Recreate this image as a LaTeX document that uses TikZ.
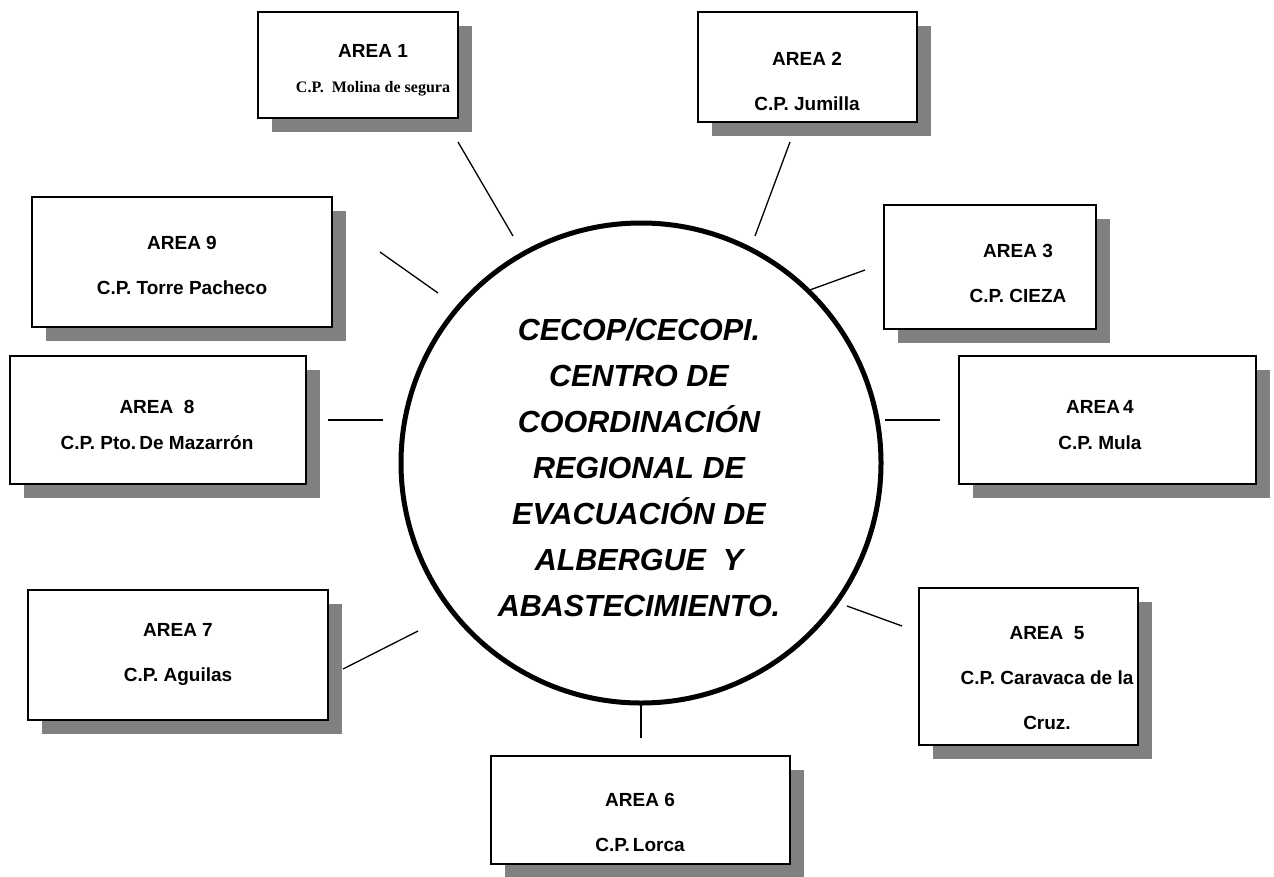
\documentclass[tikz,border=0pt]{standalone}
\usepackage{fontspec}
\setmainfont{Liberation Sans}
\newfontfamily\timesbf{Liberation Serif}
\usetikzlibrary{shadows}

\definecolor{shadowgray}{RGB}{128,128,128}

\begin{document}
\begin{tikzpicture}[x=1pt,y=-1pt,
    areabox/.style={draw=black, line width=1.4pt, fill=white, inner sep=0pt,
      general shadow={fill=shadowgray, shadow xshift=14pt, shadow yshift=-14pt}},
    areatext/.style={align=center, inner sep=0pt,
      font=\fontsize{19}{45}\selectfont\bfseries},
    link/.style={line width=1.3pt}]
        \useasboundingbox (0,0) rectangle (1274,876);
        % central circle
        \node [draw, circle, line width=5pt, minimum size=480pt, inner sep=0pt] (cecop) at (641,463) {};
        \node [align=center, font=\fontsize{30.5}{46}\selectfont\bfseries\itshape] (cecoptxt) at (639,468)
          {CECOP/CECOPI.\\CENTRO DE\\COORDINACIÓN\\REGIONAL DE\\EVACUACIÓN DE\\ALBERGUE\ \ Y\\ABASTECIMIENTO.};
        % area boxes
        \node [areabox, minimum width=200pt, minimum height=106pt] (area1) at (358,65) {};
        \node [areatext, font=\fontsize{19}{35}\selectfont\bfseries] (txt1) at (373,70) {AREA 1\\{\fontsize{16}{35}\selectfont\timesbf C.P.\ \ Molina de segura}};
        \node [areabox, minimum width=219pt, minimum height=110pt] (area2) at (807.5,67) {};
        \node [areatext] (txt2) at (807,81.5) {AREA 2\\C.P. Jumilla};
        \node [areabox, minimum width=212pt, minimum height=124pt] (area3) at (990,267) {};
        \node [areatext] (txt3) at (1018,273.5) {AREA 3\\C.P. CIEZA};
        \node [areabox, minimum width=297pt, minimum height=128pt] (area4) at (1107.5,420) {};
        \node [areatext, font=\fontsize{19}{36}\selectfont\bfseries] (txt4) at (1100,425) {AREA\,4\\C.P. Mula};
        \node [areabox, minimum width=219pt, minimum height=157pt] (area5) at (1028.5,666.5) {};
        \node [areatext] (txt5) at (1047,678) {AREA\ \ 5\\C.P. Caravaca de la\\Cruz.};
        \node [areabox, minimum width=299pt, minimum height=108pt] (area6) at (640.5,810) {};
        \node [areatext] (txt6) at (640,822.5) {AREA 6\\C.P.\,Lorca};
        \node [areabox, minimum width=300pt, minimum height=130pt] (area7) at (178,655) {};
        \node [areatext] (txt7) at (178,654.5) {AREA 7\\C.P. Aguilas};
        \node [areabox, minimum width=296pt, minimum height=128pt] (area8) at (158,420) {};
        \node [areatext, font=\fontsize{19}{36}\selectfont\bfseries] (txt8) at (157,425) {AREA\ \ 8\\C.P. Pto.\,De Mazarrón};
        \node [areabox, minimum width=300pt, minimum height=130pt] (area9) at (182,262) {};
        \node [areatext] (txt9) at (182,265.5) {AREA 9\\C.P. Torre Pacheco};
        % loose connector ends
        \coordinate (e1a) at (458,142);  \coordinate (e1b) at (513,236);
        \coordinate (e2a) at (790,142);  \coordinate (e2b) at (755,236);
        \coordinate (e3a) at (865,270);  \coordinate (e3b) at (807,291);
        \coordinate (e4a) at (940,420);  \coordinate (e4b) at (885,420);
        \coordinate (e5a) at (902,626);  \coordinate (e5b) at (847,606);
        \coordinate (e6a) at (641,738);  \coordinate (e6b) at (641,703);
        \coordinate (e7a) at (343,669);  \coordinate (e7b) at (418,631);
        \coordinate (e8a) at (328,420);  \coordinate (e8b) at (383,420);
        \coordinate (e9a) at (380,252);  \coordinate (e9b) at (438,293);
        \draw [link] (e1a) -- (e1b);
        \draw [link] (e2a) -- (e2b);
        \draw [link] (e3a) -- (e3b);
        \draw [link] (e4a) -- (e4b);
        \draw [link] (e5a) -- (e5b);
        \draw [link] (e6a) -- (e6b);
        \draw [link] (e7a) -- (e7b);
        \draw [link] (e8a) -- (e8b);
        \draw [link] (e9a) -- (e9b);
\end{tikzpicture}
\end{document}
